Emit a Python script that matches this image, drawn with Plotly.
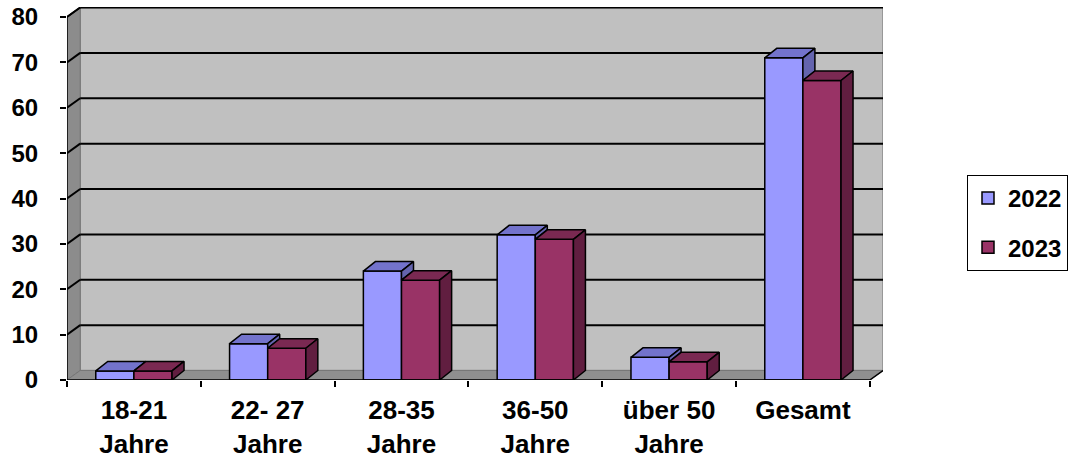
import plotly.graph_objects as go

# ---------------- data ----------------
categories = ["18-21<br>Jahre", "22- 27<br>Jahre", "28-35<br>Jahre",
              "36-50<br>Jahre", "über 50<br>Jahre", "Gesamt"]
series_names = ["2022", "2023"]
values_2022 = [2, 8, 24, 32, 5, 71]
values_2023 = [2, 7, 22, 31, 4, 66]
y_ticks = [0, 10, 20, 30, 40, 50, 60, 70, 80]

# ---------------- styling / geometry ----------------
W, H = 1073, 463
ML, MR, MT, MB = 67, 190, 7, 83
PX_PER_CAT = 133.8
PX_PER_UNIT = 4.5375
plot_w = W - ML - MR
plot_h = H - MT - MB
x_min = -0.5
x_max = x_min + plot_w / PX_PER_CAT
y_max = plot_h / PX_PER_UNIT
DXW = 13.2 / PX_PER_CAT      # depth offset of the walls (x, data units)
DXB = 12.0 / PX_PER_CAT      # depth offset of the bars
DY = 9.5 / PX_PER_UNIT        # depth offset (y, data units)
BAR_W = 0.285
n = len(categories)
y_top = y_ticks[-1]

front_cols = ["#9999FF", "#993366"]
top_cols = ["#7373CC", "#7A2952"]
side_cols = ["#6464AE", "#611E40"]
FONT = "Liberation Sans, Arial, sans-serif"

fig = go.Figure()

# front faces of the bars
series_vals = [values_2022, values_2023]
for s, (name, vals) in enumerate(zip(series_names, series_vals)):
    xs = [i - BAR_W + s * BAR_W + BAR_W / 2 for i in range(n)]
    fig.add_trace(go.Bar(
        x=xs, y=vals, width=BAR_W, name=name,
        marker=dict(color=front_cols[s], line=dict(color="black", width=1.5)),
        legendgroup=name, cliponaxis=False, hoverinfo="skip"))


def poly_trace(polys, color):
    xs, ys = [], []
    for p in polys:
        for (a, b) in p:
            xs.append(a)
            ys.append(b)
        xs.append(p[0][0]); ys.append(p[0][1])
        xs.append(None); ys.append(None)
    return go.Scatter(x=xs, y=ys, mode="lines", fill="toself", fillcolor=color,
                      line=dict(color="black", width=1.5), showlegend=False,
                      hoverinfo="skip", cliponaxis=False)


tops = [[], []]
sides = [[], []]
for i in range(n):
    for s in range(2):
        v = series_vals[s][i]
        L = i - BAR_W + s * BAR_W
        R = L + BAR_W
        tops[s].append([(L, v), (R, v), (R + DXB, v + DY), (L + DXB, v + DY)])
        if s == 1:
            sides[s].append([(R, 0), (R + DXB, DY), (R + DXB, v + DY), (R, v)])
        else:
            v2 = series_vals[1][i]
            if v > v2:
                sides[s].append([(R, v2), (R + DXB, v2 + DY), (R + DXB, v + DY), (R, v)])

for s in range(2):
    fig.add_trace(poly_trace(tops[s], top_cols[s]))
    fig.add_trace(poly_trace(sides[s], side_cols[s]))

# front axis edges
xl, xr = -0.5, n - 0.5
fig.add_trace(go.Scatter(
    x=[xl + DXW, xl, xl, xr, xr + DXW],
    y=[y_top + DY, y_top, 0, 0, DY],
    mode="lines", line=dict(color="black", width=1.5),
    showlegend=False, hoverinfo="skip", cliponaxis=False))

# walls, floor and gridlines (below traces)
shapes = []


def path(pts):
    return "M " + " L ".join(f"{a},{b}" for a, b in pts) + " Z"


shapes.append(dict(type="rect", xref="x", yref="y", layer="below",
                   x0=xl + DXW, x1=xr + DXW, y0=DY, y1=y_top + DY,
                   fillcolor="#C0C0C0", line=dict(color="#8a8a8a", width=1.5)))
shapes.append(dict(type="path", xref="x", yref="y", layer="below",
                   path=path([(xl, 0), (xl + DXW, DY), (xl + DXW, y_top + DY), (xl, y_top)]),
                   fillcolor="#8C8C8C", line=dict(color="#777777", width=1)))
shapes.append(dict(type="path", xref="x", yref="y", layer="below",
                   path=path([(xl, 0), (xr, 0), (xr + DXW, DY), (xl + DXW, DY)]),
                   fillcolor="#8F8F8F", line=dict(color="#777777", width=1)))
for v in y_ticks[1:]:
    shapes.append(dict(type="line", xref="x", yref="y", layer="below",
                       x0=xl + DXW, x1=xr + DXW, y0=v + DY, y1=v + DY,
                       line=dict(color="black", width=2)))
    shapes.append(dict(type="line", xref="x", yref="y", layer="below",
                       x0=xl, x1=xl + DXW, y0=v, y1=v + DY,
                       line=dict(color="black", width=2)))

fig.update_layout(
    width=W, height=H,
    margin=dict(l=ML, r=MR, t=MT, b=MB, pad=0, autoexpand=False),
    paper_bgcolor="white", plot_bgcolor="white",
    barmode="overlay",
    shapes=shapes,
    showlegend=True,
    legend=dict(xref="container", yref="container", x=967 / W, y=1 - 175 / H,
                xanchor="left", yanchor="top",
                bgcolor="white", bordercolor="black", borderwidth=1,
                font=dict(family=FONT, size=24, color="black", weight="bold"),
                tracegroupgap=15, traceorder="grouped"),
    xaxis=dict(range=[x_min, x_max], tickmode="array", automargin=False,
               tickvals=list(range(n)), ticktext=categories,
               ticks="", showgrid=False, zeroline=False, showline=False,
               ticklabelstandoff=12,
               tickfont=dict(family=FONT, size=26, color="black", weight="bold"),
               minor=dict(tickmode="array",
                          tickvals=[i - 0.5 for i in range(n + 1)],
                          ticks="outside", ticklen=6, tickwidth=1.5,
                          tickcolor="black", showgrid=False)),
    yaxis=dict(range=[0, y_max], tickmode="array", tickvals=y_ticks, automargin=False,
               ticks="outside", ticklen=6, tickwidth=1.5, tickcolor="black",
               showgrid=False, zeroline=False, showline=False,
               ticklabelstandoff=17,
               tickfont=dict(family=FONT, size=24, color="black", weight="bold")),
)

fig.write_html("out.html")
